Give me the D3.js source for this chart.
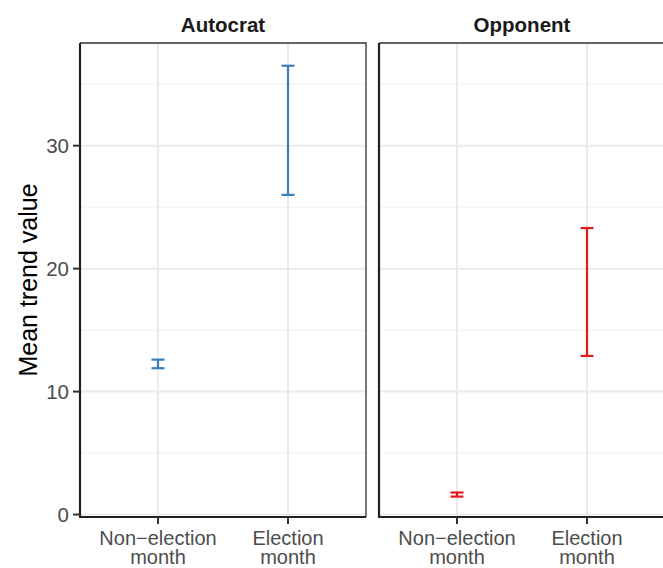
<!DOCTYPE html>
<html><head><meta charset="utf-8">
<script src="https://cdn.jsdelivr.net/npm/d3@7"></script>
<style>body{margin:0;background:#fff;}svg{display:block;font-family:"Liberation Sans",Arial,sans-serif;}</style>
</head><body><svg id="c" width="663" height="568"></svg>
<script>
const panels = ["Autocrat", "Opponent"];
const categories = ["Non\u2212election month", "Election month"];
const lowerAutocrat = [11.9, 26.0];
const upperAutocrat = [12.6, 36.5];
const lowerOpponent = [1.46, 12.9];
const upperOpponent = [1.79, 23.3];
const colors = ["#377EB8", "#E41A1C"];
const yTicks = [0, 10, 20, 30];
const yMinor = [5, 15, 25, 35];

(function() {
const svg = d3.select("#c");
const W = 286, pTop = 43, pBottom = 517;
const panelX = [80, 379];
const y = d3.scaleLinear().domain([-0.2, 38.35]).range([pBottom, pTop]);
const data = [
  categories.map((c, i) => ({c, lo: lowerAutocrat[i], hi: upperAutocrat[i]})),
  categories.map((c, i) => ({c, lo: lowerOpponent[i], hi: upperOpponent[i]}))
];

panels.forEach((p, pi) => {
  const x0 = panelX[pi];
  const x = d3.scalePoint().domain(categories).range([x0 + 0.6 * W / 2.2, x0 + 1.6 * W / 2.2]);
  const g = svg.append("g");
  g.selectAll(".mn").data(yMinor).join("line")
    .attr("x1", x0).attr("x2", x0 + W).attr("y1", d => y(d)).attr("y2", d => y(d))
    .attr("stroke", "#f0f0f0").attr("stroke-width", 1);
  g.selectAll(".mj").data(yTicks).join("line")
    .attr("x1", x0).attr("x2", x0 + W).attr("y1", d => y(d)).attr("y2", d => y(d))
    .attr("stroke", "#ebebeb").attr("stroke-width", 2);
  g.selectAll(".vx").data(categories).join("line")
    .attr("x1", d => x(d)).attr("x2", d => x(d)).attr("y1", pTop).attr("y2", pBottom)
    .attr("stroke", "#ebebeb").attr("stroke-width", 2);
  g.append("path").attr("d", `M${x0},${pTop}H${x0 + W}V${pBottom}`)
    .attr("fill", "none").attr("stroke", "#333").attr("stroke-width", 1.3);
  g.append("path").attr("d", `M${x0},${pTop}V${pBottom}H${x0 + W}`)
    .attr("fill", "none").attr("stroke", "#222").attr("stroke-width", 2.2);
  const col = colors[pi];
  const eb = g.selectAll(".eb").data(data[pi]).join("g");
  eb.append("line").attr("x1", d => x(d.c)).attr("x2", d => x(d.c))
    .attr("y1", d => y(d.lo)).attr("y2", d => y(d.hi)).attr("stroke", col).attr("stroke-width", 2.2);
  ["lo", "hi"].forEach(k => {
    eb.append("line").attr("x1", d => x(d.c) - 6.5).attr("x2", d => x(d.c) + 6.5)
      .attr("y1", d => y(d[k])).attr("y2", d => y(d[k])).attr("stroke", col).attr("stroke-width", 2.2);
  });
  g.selectAll(".xt").data(categories).join("line")
    .attr("x1", d => x(d)).attr("x2", d => x(d)).attr("y1", pBottom).attr("y2", pBottom + 7)
    .attr("stroke", "#333").attr("stroke-width", 2);
  const xl = g.selectAll(".xl").data(categories).join("text")
    .attr("text-anchor", "middle").attr("fill", "#4d4d4d").attr("font-size", 20);
  xl.each(function(d) {
    const parts = d.split(" ");
    const t = d3.select(this);
    t.append("tspan").attr("x", x(d)).attr("y", 544.5).text(parts[0]);
    t.append("tspan").attr("x", x(d)).attr("y", 564).text(parts.slice(1).join(" "));
  });
  g.append("text").attr("x", x0 + W / 2).attr("y", 31.5).attr("text-anchor", "middle")
    .attr("font-weight", "bold").attr("font-size", 20.5).attr("fill", "#1a1a1a").text(p);
  if (pi === 0) {
    g.selectAll(".yt").data(yTicks).join("line")
      .attr("x1", x0 - 7).attr("x2", x0).attr("y1", d => y(d)).attr("y2", d => y(d))
      .attr("stroke", "#333").attr("stroke-width", 2);
    g.selectAll(".yl").data(yTicks).join("text")
      .attr("x", x0 - 11).attr("y", d => y(d)).attr("dy", "0.36em")
      .attr("text-anchor", "end").attr("fill", "#4d4d4d").attr("font-size", 20.5).text(d => d);
  }
});
svg.append("text").attr("transform", `translate(37,${(pTop + pBottom) / 2}) rotate(-90)`)
  .attr("text-anchor", "middle").attr("font-size", 25).attr("fill", "#000").text("Mean trend value");
})();
</script></body></html>
